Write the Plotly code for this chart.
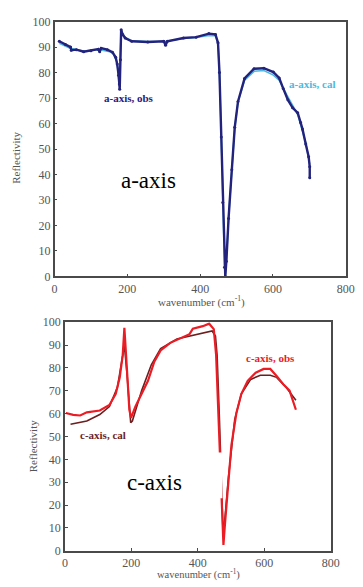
import plotly.graph_objects as go

# a-axis (top panel)
a_obs_x = [13, 30, 44, 46, 60, 80, 100, 120, 124, 128, 145, 159, 168, 172, 176, 178, 179, 181, 183, 187, 194, 212, 256, 300, 305, 310, 354, 389, 424, 442, 449, 453, 458, 462, 467, 469, 472, 478, 487, 495, 504, 522, 548, 575, 601, 617, 628, 641, 654, 668, 676, 681, 690, 698, 701, 701]
a_obs_y = [92.3, 91.0, 90.0, 88.8, 89.0, 88.2, 88.6, 89.2, 88.2, 89.6, 89.0, 88.0, 86.0, 83.4, 79.0, 75.5, 73.5, 85.0, 96.8, 95.0, 93.6, 92.3, 92.0, 92.3, 90.7, 92.3, 93.6, 93.9, 95.3, 95.0, 91.7, 80.0, 54.7, 29.0, 3.6, 0.0, 6.0, 22.7, 41.9, 58.5, 68.7, 77.7, 81.5, 81.7, 80.2, 77.9, 73.8, 69.3, 66.2, 64.2, 60.4, 57.9, 52.0, 47.0, 43.0, 38.7]
a_cal_x = [13, 44, 80, 124, 159, 172, 178, 181, 183, 194, 212, 256, 305, 354, 389, 424, 442, 449, 453, 458, 462, 467, 469, 472, 478, 487, 495, 504, 522, 548, 575, 601, 617, 641, 668, 690, 701]
a_cal_y = [91.5, 89.5, 88.5, 89.0, 88.0, 84.0, 75.0, 86.0, 96.0, 93.8, 92.5, 92.2, 92.3, 93.4, 93.8, 94.6, 94.5, 91.5, 80.0, 55.0, 29.0, 4.0, 0.0, 6.0, 23.0, 42.0, 58.5, 68.5, 77.0, 80.5, 80.8, 79.0, 77.0, 70.5, 63.5, 52.5, 44.0]

# c-axis (bottom panel)
c_obs_x = [3, 25, 46, 66, 105, 134, 153, 165, 174, 179, 187, 194, 199, 212, 231, 250, 269, 288, 317, 356, 375, 385, 415, 434, 448, 455, 461, 466, 473, 477, 482, 492, 501, 516, 531, 550, 574, 598, 618, 637, 657, 676, 686, 695]
c_obs_y = [60.3, 59.5, 59.2, 60.6, 61.4, 63.8, 68.7, 75.8, 85.6, 97.6, 78.6, 61.7, 58.2, 63.1, 68.7, 74.4, 82.8, 87.7, 91.0, 93.4, 94.8, 97.2, 98.3, 99.4, 97.0, 85.6, 64.5, 43.4, 15.2, 2.5, 12.4, 29.3, 46.2, 60.3, 68.7, 74.4, 77.9, 79.6, 79.6, 76.5, 72.9, 70.1, 65.9, 61.7]
c_cal_x = [17, 66, 105, 134, 158, 172, 179, 187, 198, 203, 231, 260, 288, 337, 395, 443, 453, 458, 465, 471, 476, 482, 492, 511, 531, 559, 588, 618, 637, 666, 695]
c_cal_y = [55.4, 56.8, 59.6, 63.1, 71.5, 82.8, 89.9, 77.2, 56.0, 56.8, 70.1, 81.4, 88.5, 92.7, 94.8, 96.2, 94.0, 85.6, 57.5, 29.3, 6.8, 15.0, 32.0, 57.5, 68.7, 75.0, 76.8, 76.8, 75.9, 71.5, 65.9]

x_ticks = [0, 200, 400, 600, 800]
y_ticks = [0, 10, 20, 30, 40, 50, 60, 70, 80, 90, 100]

W, H = 363, 587
FONT = "Liberation Serif, Times New Roman, serif"
NAVY = "#23237d"
LBLUE = "#4fb8e0"
RED = "#ec1c24"
DRED = "#6e1e1e"
GRAY = "#555555"

fig = go.Figure()
fig.add_trace(go.Scatter(x=a_cal_x, y=a_cal_y, mode="lines", line=dict(color=LBLUE, width=1.6),
                         xaxis="x", yaxis="y", showlegend=False))
fig.add_trace(go.Scatter(x=a_obs_x, y=a_obs_y, mode="lines+markers", line=dict(color=NAVY, width=2.4),
                         marker=dict(color=NAVY, size=3), xaxis="x", yaxis="y", showlegend=False))
fig.add_trace(go.Scatter(x=c_cal_x, y=c_cal_y, mode="lines", line=dict(color=DRED, width=1.6),
                         xaxis="x2", yaxis="y2", showlegend=False))
fig.add_trace(go.Scatter(x=c_obs_x, y=c_obs_y, mode="lines", line=dict(color=RED, width=2.2),
                         xaxis="x2", yaxis="y2", showlegend=False))

axis_common = dict(showline=True, linecolor="#4a4a4a", linewidth=1.5, mirror=True, showgrid=False,
                   zeroline=False, ticks="inside", ticklen=3, tickwidth=1, tickcolor="#4a4a4a",
                   tickfont=dict(family=FONT, size=12, color=GRAY))

def px(x):
    return x / W

def py(y):
    return 1 - y / H

fig.update_layout(
    width=W, height=H,
    margin=dict(l=0, r=0, t=0, b=0),
    paper_bgcolor="white", plot_bgcolor="white",
    xaxis=dict(domain=[px(53.3), px(354.5)], range=[0, 800], tickvals=x_ticks, anchor="y", **axis_common),
    yaxis=dict(domain=[py(276), py(15)], range=[0, 100], tickvals=y_ticks, anchor="x", **axis_common),
    xaxis2=dict(domain=[px(64), px(339)], range=[0, 800], tickvals=x_ticks, anchor="y2", **axis_common),
    yaxis2=dict(domain=[py(557), py(323)], range=[0, 100], tickvals=y_ticks, anchor="x2", **axis_common),
)

# white patch that hides part of the c-axis descending edge (as in the original figure)
fig.add_shape(type="rect", xref="x2", yref="y2", x0=380, x1=474, y0=23, y1=43,
              fillcolor="white", line=dict(width=0), layer="above")

def ann(text, x, y, size=11, color=GRAY, bold=False, angle=0):
    t = f"<b>{text}</b>" if bold else text
    fig.add_annotation(text=t, x=px(x), y=py(y), xref="paper", yref="paper", showarrow=False,
                       font=dict(family=FONT, size=size, color=color), textangle=angle,
                       xanchor="center", yanchor="middle")

ann("wavenumber (cm<sup>-1</sup>)", 205, 302, size=11)
ann("wavenumber (cm<sup>-1</sup>)", 202, 581, size=10.5)
ann("Reflectivity", 14, 155, size=11, angle=-90)
ann("Reflectivity", 31, 450, size=11, angle=-90)
ann("a-axis, obs", 130, 93, size=11, color=NAVY, bold=True)
ann("a-axis, cal", 320, 79, size=11, color=LBLUE, bold=True)
ann("c-axis, obs", 277, 360, size=11, color=RED, bold=True)
ann("c-axis, cal", 103, 438, size=11, color=DRED, bold=True)
ann("a-axis", 150, 178, size=23, color="black")
ann("c-axis", 157, 487, size=23, color="black")

fig.write_html("out.html", config={"displayModeBar": False},
               post_script="document.body.style.margin='0';document.body.style.overflow='hidden';")
